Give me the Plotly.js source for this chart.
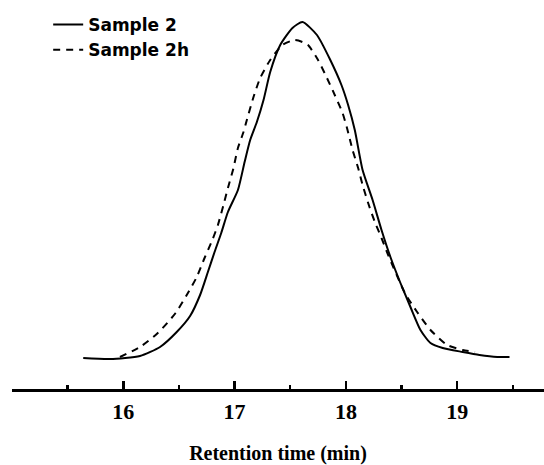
<!DOCTYPE html>
<html>
<head>
<meta charset="utf-8">
<script src="https://cdn.plot.ly/plotly-3.0.1.min.js"></script>
<style>html,body{margin:0;padding:0;background:#fff;}#chart{width:544px;height:465px;}</style>
</head>
<body>
<div id="chart"></div>
<script>
// Sample 2 (solid)
const s2Time = [15.64,15.88,16.15,16.33,16.48,16.60,16.69,16.76,16.82,16.88,16.94,17.03,17.09,17.14,17.20,17.26,17.32,17.41,17.52,17.61,17.74,17.86,17.96,18.02,18.08,18.15,18.24,18.32,18.40,18.49,18.58,18.67,18.76,18.87,19.05,19.20,19.36,19.47];
const s2Signal = [31,30,33,42,57,73,94,117,137,156,177,199,227,249,267,289,317,344,361,367,354,329,304,284,259,219,189,159,132,106,82,59,46,41,37,34,32,32];
// Sample 2h (dashed)
const s2hTime = [15.97,16.15,16.31,16.47,16.57,16.66,16.73,16.80,16.85,16.90,16.94,16.99,17.03,17.08,17.11,17.17,17.23,17.32,17.43,17.54,17.61,17.66,17.75,17.83,17.90,17.97,18.01,18.06,18.11,18.15,18.20,18.26,18.32,18.38,18.53,18.64,18.76,18.91,19.05,19.16];
const s2hSignal = [32,42,56,76,94,112,131,149,164,184,201,221,241,257,269,292,311,329,344,349,347,344,329,311,294,276,261,239,221,204,186,167,151,134,96,77,59,44,39,37];

const majorTicks = [16,17,18,19];
const majorLabels = ['16','17','18','19'];
const minorTicks = [15.5,16.5,17.5,18.5,19.5];

const traces = [
  {x: s2Time, y: s2Signal, name: 'Sample 2', type: 'scatter', mode: 'lines',
   line: {color: '#000', width: 2, shape: 'spline', smoothing: 0.6}},
  {x: s2hTime, y: s2hSignal, name: 'Sample 2h', type: 'scatter', mode: 'lines',
   line: {color: '#000', width: 2, dash: '7px,6px', shape: 'spline', smoothing: 0.6}}
];

const layout = {
  width: 544, height: 465,
  margin: {l: 12, r: 0, t: 0, b: 76},
  paper_bgcolor: '#fff', plot_bgcolor: '#fff',
  showlegend: true,
  legend: {x: 0.068, y: 0.982, xref: 'paper', yref: 'paper', xanchor: 'left', yanchor: 'top',
    bgcolor: 'rgba(0,0,0,0)', borderwidth: 0,
    font: {family: 'DejaVu Sans', size: 17, color: '#000', weight: 'bold'},
    tracegroupgap: 4},
  xaxis: {
    range: [15, 19.78], showgrid: false, zeroline: false,
    showline: true, linecolor: '#000', linewidth: 3,
    ticks: 'inside', ticklen: 8, tickwidth: 2.5, tickcolor: '#000',
    tickvals: majorTicks, ticktext: majorLabels,
    ticklabelstandoff: 1,
    tickfont: {family: 'Liberation Serif', size: 22, color: '#000', weight: 'bold'},
    minor: {tickvals: minorTicks, ticks: 'inside', ticklen: 4, tickwidth: 2.5, tickcolor: '#000', showgrid: false},
    title: {text: 'Retention time (min)', standoff: 24,
      font: {family: 'Liberation Serif', size: 20, color: '#000', weight: 'bold'}},
    fixedrange: true
  },
  yaxis: {range: [0, 389], visible: false, showgrid: false, zeroline: false, fixedrange: true}
};

Plotly.newPlot('chart', traces, layout, {displayModeBar: false, staticPlot: true});
</script>
</body>
</html>
